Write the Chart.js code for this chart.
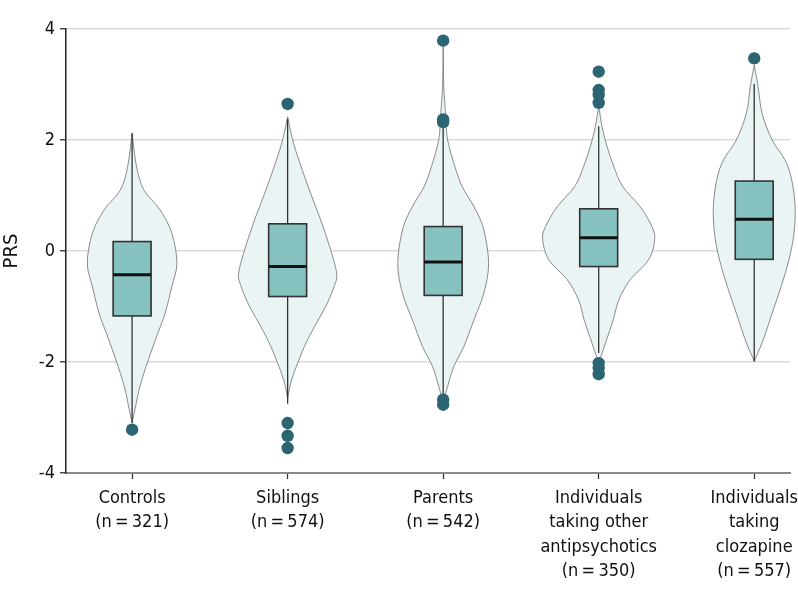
<!DOCTYPE html>
<html lang="en">
<head>
  <meta charset="UTF-8" />
  <title>PRS by group</title>
  <script src="https://cdn.jsdelivr.net/npm/chart.js@4.4.1/dist/chart.umd.min.js"></script>
  <style>
    html, body { margin: 0; padding: 0; background: #fff; }
    #wrap { width: 798px; height: 598px; }
  </style>
</head>
<body>
  <div id="wrap"><canvas id="violinChart" width="798" height="598"></canvas></div>

  <script>
    // groups on the x axis
    const categories = [
      ['Controls', '(n\u2009=\u2009321)'],
      ['Siblings', '(n\u2009=\u2009574)'],
      ['Parents', '(n\u2009=\u2009542)'],
      ['Individuals', 'taking other', 'antipsychotics', '(n\u2009=\u2009350)'],
      ['Individuals', 'taking', 'clozapine', '(n\u2009=\u2009557)']
    ]
    const yTicks = [-4, -2, 0, 2, 4]

    // box plot summaries
    const q1 = [-1.17, -0.82, -0.80, -0.28, -0.15]
    const medians = [-0.43, -0.28, -0.20, 0.24, 0.57]
    const q3 = [0.17, 0.49, 0.44, 0.76, 1.26]
    const whiskerLow = [-3.10, -2.75, -2.62, -1.84, -1.99]
    const whiskerHigh = [2.12, 2.38, 2.22, 2.25, 3.01]

    // outliers (group number, PRS)
    const outlierGroup = [1, 2, 2, 2, 2, 3, 3, 3, 3, 3, 4, 4, 4, 4, 4, 4, 4, 5]
    const outlierValue = [-3.22, 2.65, -3.10, -3.33, -3.55, 3.79, 2.37, 2.32, -2.68, -2.77,
                          3.23, 2.90, 2.81, 2.67, -2.02, -2.11, -2.22, 3.47]

    // violin outlines: PRS levels (top to bottom) and relative density at each level
    const violinLevels = [
      [2.12, 1.52, 1.10, 0.74, 0.32, -0.22, -0.64, -1.12, -1.48, -1.96, -2.44, -2.86, -3.10],
      [2.42, 2.00, 1.58, 1.04, 0.56, 0.08, -0.40, -0.64, -1.00, -1.36, -1.72, -2.02, -2.32, -2.65],
      [3.79, 3.00, 2.38, 2.00, 1.52, 1.16, 0.80, 0.44, -0.04, -0.40, -0.82, -1.24, -1.72, -2.08, -2.44, -2.72],
      [2.62, 2.24, 1.88, 1.52, 1.16, 0.80, 0.44, 0.20, -0.16, -0.52, -0.88, -1.24, -1.60, -1.84, -2.02],
      [3.35, 2.96, 2.48, 2.00, 1.64, 1.28, 0.80, 0.32, -0.16, -0.64, -1.12, -1.60, -1.99]
    ]
    const violinDensity = [
      [0, 0.08, 0.21, 0.50, 0.71, 0.80, 0.71, 0.59, 0.46, 0.29, 0.14, 0.05, 0],
      [0, 0.09, 0.22, 0.41, 0.59, 0.75, 0.875, 0.83, 0.68, 0.48, 0.30, 0.18, 0.07, 0],
      [0, 0.01, 0.05, 0.08, 0.21, 0.34, 0.55, 0.71, 0.80, 0.80, 0.71, 0.55, 0.37, 0.19, 0.08, 0],
      [0, 0.06, 0.15, 0.27, 0.43, 0.74, 0.95, 1.0, 0.89, 0.56, 0.36, 0.26, 0.14, 0.06, 0],
      [0, 0.07, 0.14, 0.32, 0.55, 0.67, 0.73, 0.71, 0.62, 0.48, 0.32, 0.16, 0]
    ]

    const violinScale = 0.36   // half width of density 1, in group units
    const boxHalf = 0.122
    const labelFont = "'DejaVu Sans Condensed', 'Liberation Sans Narrow', Roboto, sans-serif"

    function curveThrough(ctx, pts) {
      const n = pts.length
      for (let k = 0; k < n - 1; k++) {
        const p0 = pts[Math.max(k - 1, 0)]
        const p1 = pts[k]
        const p2 = pts[k + 1]
        const p3 = pts[Math.min(k + 2, n - 1)]
        ctx.bezierCurveTo(
          p1[0] + (p2[0] - p0[0]) / 6, p1[1] + (p2[1] - p0[1]) / 6,
          p2[0] - (p3[0] - p1[0]) / 6, p2[1] - (p3[1] - p1[1]) / 6,
          p2[0], p2[1])
      }
    }

    const violinPlugin = {
      id: 'violins',
      beforeDatasetsDraw(chart) {
        const ctx = chart.ctx
        const x = chart.scales.x
        const y = chart.scales.y
        ctx.save()
        for (let i = 0; i < categories.length; i++) {
          const pos = i + 1
          const levels = violinLevels[i]
          const dens = violinDensity[i]
          const right = levels.map((v, k) => [x.getPixelForValue(pos + dens[k] * violinScale), y.getPixelForValue(v)])
          const left = levels.map((v, k) => [x.getPixelForValue(pos - dens[k] * violinScale), y.getPixelForValue(v)]).reverse()

          ctx.beginPath()
          ctx.moveTo(right[0][0], right[0][1])
          curveThrough(ctx, right)
          curveThrough(ctx, left)
          ctx.closePath()
          ctx.fillStyle = '#eaf4f5'
          ctx.fill()
          ctx.lineWidth = 0.8
          ctx.strokeStyle = '#6f6f6f'
          ctx.stroke()

          const cx = x.getPixelForValue(pos)
          ctx.beginPath()
          ctx.moveTo(cx, y.getPixelForValue(whiskerHigh[i]))
          ctx.lineTo(cx, y.getPixelForValue(whiskerLow[i]))
          ctx.lineWidth = 1.3
          ctx.strokeStyle = '#333'
          ctx.stroke()

          const bl = x.getPixelForValue(pos - boxHalf)
          const br = x.getPixelForValue(pos + boxHalf)
          const bt = y.getPixelForValue(q3[i])
          const bb = y.getPixelForValue(q1[i])
          ctx.fillStyle = '#85c2c0'
          ctx.fillRect(bl, bt, br - bl, bb - bt)
          ctx.lineWidth = 1.6
          ctx.strokeStyle = '#333'
          ctx.strokeRect(bl, bt, br - bl, bb - bt)

          const my = y.getPixelForValue(medians[i])
          ctx.beginPath()
          ctx.moveTo(bl, my)
          ctx.lineTo(br, my)
          ctx.lineWidth = 3
          ctx.strokeStyle = '#111'
          ctx.stroke()
        }
        ctx.restore()
      }
    }

    function renderChart() {
      const ctx = document.getElementById('violinChart').getContext('2d')
      new Chart(ctx, {
        type: 'scatter',
        data: {
          datasets: [{
            data: outlierGroup.map((g, i) => ({ x: g, y: outlierValue[i] })),
            backgroundColor: '#2b6473',
            borderWidth: 0,
            pointRadius: 6.2,
            pointHoverRadius: 6.2
          }]
        },
        options: {
          responsive: false,
          animation: false,
          layout: { padding: { top: 29, right: 8, left: 0, bottom: 0 } },
          plugins: { legend: { display: false }, tooltip: { enabled: false } },
          scales: {
            x: {
              type: 'linear',
              min: 0.575,
              max: 5.23,
              afterBuildTicks: scale => { scale.ticks = categories.map((c, i) => ({ value: i + 1 })) },
              afterFit: scale => {
                scale.height = 125
                scale.paddingRight = 0
                scale.paddingLeft = 0
              },
              grid: { drawOnChartArea: false, drawTicks: true, tickLength: 6, tickColor: '#333', tickWidth: 1.3 },
              border: { color: '#8a8a8a', width: 2 },
              ticks: {
                autoSkip: false,
                maxRotation: 0,
                padding: 7,
                color: '#111',
                font: { family: labelFont, size: 18, lineHeight: 1.36 },
                callback: (value, index) => categories[index]
              }
            },
            y: {
              min: -4,
              max: 4,
              afterBuildTicks: scale => { scale.ticks = yTicks.map(v => ({ value: v })) },
              afterFit: scale => { scale.width = 66 },
              grid: { color: '#d9d9d9', lineWidth: 1.5, tickLength: 6, tickColor: '#333', tickWidth: 1.3 },
              border: { color: '#222', width: 1.5 },
              ticks: {
                padding: 5,
                color: '#111',
                font: { family: labelFont, size: 18 }
              },
              title: {
                display: true,
                text: 'PRS',
                color: '#111',
                padding: { top: 0, bottom: 0 },
                font: { family: labelFont, size: 20, lineHeight: 1.2 }
              }
            }
          }
        },
        plugins: [violinPlugin]
      })
    }

    renderChart()
  </script>
</body>
</html>
